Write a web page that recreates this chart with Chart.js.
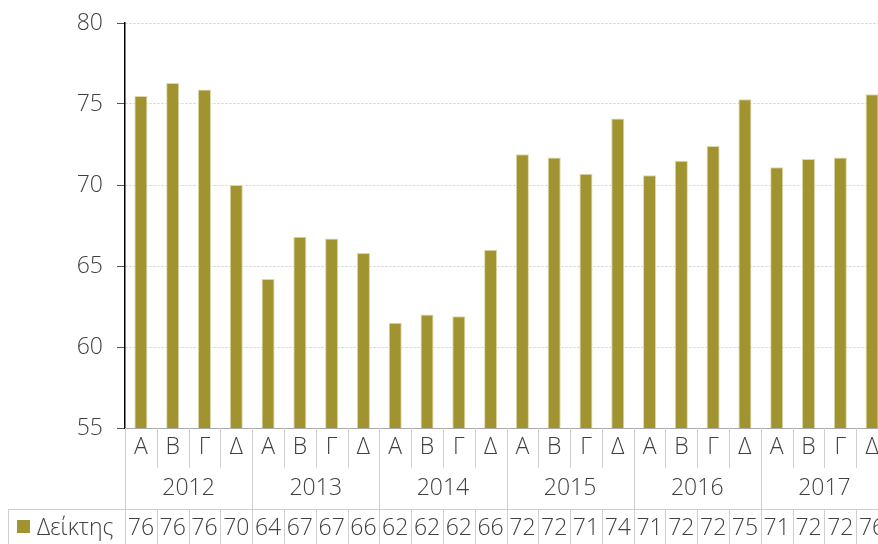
<!DOCTYPE html>
<html>
<head>
<meta charset="utf-8">
<script src="https://cdn.jsdelivr.net/npm/chart.js@4"></script>
<style>
    html, body { margin: 0; padding: 0; background: #fff; overflow: hidden; }
    #wrap { position: relative; width: 888px; height: 544px; }
</style>
</head>
<body>
<div id="wrap"><canvas id="indexChart"></canvas></div>
<script>
// Quarterly index values, 2012-2017
const years = ['2012', '2013', '2014', '2015', '2016', '2017'];
const quarters = ['Α', 'Β', 'Γ', 'Δ'];
const values = [
    75.5, 76.3, 75.9, 70.0,
    64.2, 66.8, 66.7, 65.8,
    61.5, 62.0, 61.9, 66.0,
    71.9, 71.7, 70.7, 74.1,
    70.6, 71.5, 72.4, 75.3,
    71.1, 71.6, 71.7, 75.6
];
const yTicks = [55, 60, 65, 70, 75, 80];
const seriesName = 'Δείκτης';

const labels = [];
years.forEach(y => quarters.forEach(q => labels.push(q)));

const barColor = '#a09330';
const textColor = '#404040';
const lineColor = '#cfcfcf';
const fontFamily = "'Open Sans', sans-serif";

// Draws the year row and the data table under the axis
const tablePlugin = {
    id: 'tablePlugin',
    afterDraw(chart) {
        const ctx = chart.ctx;
        const x = chart.scales.x;
        const area = chart.chartArea;
        const step = x.getPixelForValue(1) - x.getPixelForValue(0);
        const top = area.bottom;
        const rowQ = top + 40;
        const rowData = top + 81;
        const bottom = chart.height;

        ctx.save();
        ctx.strokeStyle = lineColor;
        ctx.lineWidth = 1;

        // vertical separators
        for (let i = 0; i <= labels.length; i++) {
            const px = Math.round(x.getPixelForValue(i) - step / 2) + 0.5;
            ctx.beginPath();
            if (i % 4 === 0) {
                ctx.moveTo(px, top);
                ctx.lineTo(px, bottom);
            } else {
                ctx.moveTo(px, top);
                ctx.lineTo(px, rowQ);
                ctx.moveTo(px, rowData);
                ctx.lineTo(px, bottom);
            }
            ctx.stroke();
        }

        // table top line and left border
        ctx.beginPath();
        ctx.moveTo(8.5, rowData + 0.5);
        ctx.lineTo(chart.width, rowData + 0.5);
        ctx.moveTo(8.5, rowData);
        ctx.lineTo(8.5, bottom);
        ctx.stroke();

        ctx.fillStyle = textColor;
        ctx.font = '300 23px ' + fontFamily;
        ctx.textAlign = 'center';
        ctx.textBaseline = 'middle';

        // years
        years.forEach((y, k) => {
            const cx = (x.getPixelForValue(k * 4) + x.getPixelForValue(k * 4 + 3)) / 2;
            ctx.fillText(y, cx, top + 60);
        });

        // rounded values
        values.forEach((v, i) => {
            ctx.fillText(String(Math.round(v)), x.getPixelForValue(i), rowData + 19);
        });

        // legend cell
        ctx.fillStyle = barColor;
        ctx.fillRect(17, rowData + 11, 13, 13);
        ctx.fillStyle = textColor;
        ctx.textAlign = 'left';
        ctx.fillText(seriesName, 37, rowData + 19);
        ctx.restore();
    }
};

new Chart(document.getElementById('indexChart'), {
    type: 'bar',
    data: {
        labels: labels,
        datasets: [{
            label: seriesName,
            data: values,
            backgroundColor: barColor,
            borderColor: '#dcd7a8',
            borderWidth: { top: 1, left: 1, right: 1, bottom: 0 },
            barPercentage: 0.41,
            categoryPercentage: 1
        }]
    },
    options: {
        responsive: true,
        maintainAspectRatio: false,
        animation: false,
        layout: {
            padding: { top: 23, left: 0, right: 0, bottom: 0 }
        },
        plugins: {
            legend: { display: false },
            tooltip: { enabled: false }
        },
        scales: {
            y: {
                min: 55,
                max: 80,
                afterFit: s => { s.width = 125; s.paddingTop = 0; s.paddingBottom = 0; },
                afterBuildTicks: s => { s.ticks = yTicks.map(v => ({ value: v })); },
                border: { display: true, color: '#000', width: 1.5, dash: [2, 2] },
                grid: {
                    color: lineColor,
                    tickLength: 8,
                    tickColor: '#555',
                    tickBorderDash: []
                },
                ticks: {
                    color: textColor,
                    padding: 14,
                    font: { family: fontFamily, size: 23, weight: '300' }
                }
            },
            x: {
                afterFit: s => { s.height = 116; },
                border: { display: true, color: '#aaa', width: 1 },
                grid: { display: false, drawTicks: false },
                ticks: {
                    color: textColor,
                    padding: 6,
                    maxRotation: 0,
                    autoSkip: false,
                    font: { family: fontFamily, size: 23, weight: '300' }
                }
            }
        }
    },
    plugins: [tablePlugin]
});
</script>
</body>
</html>
